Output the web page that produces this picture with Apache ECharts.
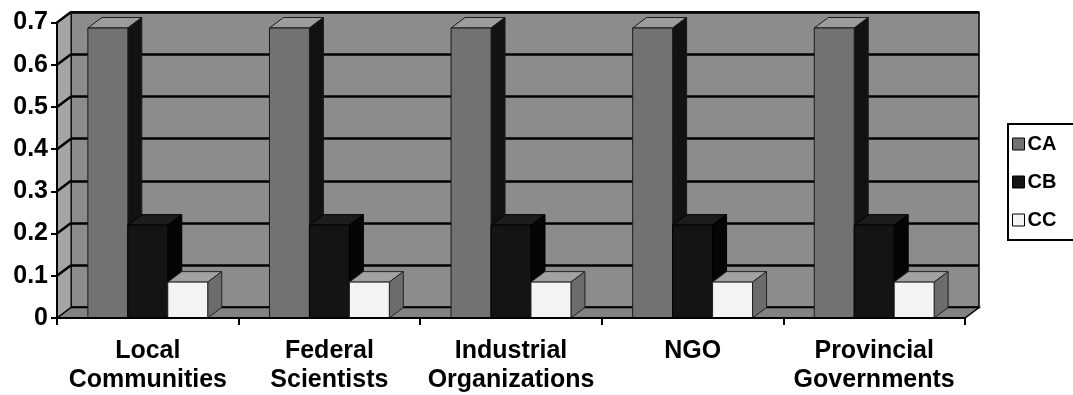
<!DOCTYPE html>
<html>
<head>
<meta charset="utf-8">
<script src="https://cdn.jsdelivr.net/npm/echarts@6/dist/echarts.min.js"></script>
<style>
html,body{margin:0;padding:0;background:#fff;}
#chart{width:1073px;height:395px;}
</style>
</head>
<body>
<div id="chart"></div>
<script>
// ---- data ----
const categories = ['Local\nCommunities', 'Federal\nScientists', 'Industrial\nOrganizations', 'NGO', 'Provincial\nGovernments'];
const seriesNames = ['CA', 'CB', 'CC'];
const caValues = [0.687, 0.687, 0.687, 0.687, 0.687];
const cbValues = [0.22, 0.22, 0.22, 0.22, 0.22];
const ccValues = [0.085, 0.085, 0.085, 0.085, 0.085];
const yMin = 0, yMax = 0.7, yStep = 0.1;

// ---- style ----
const FONT = "'Liberation Sans', Arial, sans-serif";
const DX = 14, DY = -10.5;          // 3D depth offset
const BAR_FRAC = 0.22;              // bar width as fraction of category width
const faceColors = [
  {front: '#727272', top: '#9c9c9c', side: '#121212', stroke: '#1a1a1a'},
  {front: '#141414', top: '#1c1c1c', side: '#050505', stroke: '#000'},
  {front: '#f4f4f4', top: '#a2a2a2', side: '#6c6c6c', stroke: '#222'}
];
const allValues = [caValues, cbValues, ccValues];

const chart = echarts.init(document.getElementById('chart'));

function barRenderer(sIdx) {
  return function (params, api) {
    const cat = api.value(0), v = api.value(1);
    const top = api.coord([cat, v]);
    const base = api.coord([cat, 0]);
    const cw = api.size([1, 0])[0];
    const w = cw * BAR_FRAC;
    const x0 = top[0] + (sIdx - 1.5) * w;
    const x1 = x0 + w;
    const yT = top[1], yB = base[1];
    const c = faceColors[sIdx];
    return {
      type: 'group',
      children: [
        {type: 'polygon', shape: {points: [[x0, yT], [x0 + DX, yT + DY], [x1 + DX, yT + DY], [x1, yT]]},
         style: {fill: c.top, stroke: c.stroke, lineWidth: 1}},
        {type: 'polygon', shape: {points: [[x1, yT], [x1 + DX, yT + DY], [x1 + DX, yB + DY], [x1, yB]]},
         style: {fill: c.side, stroke: c.stroke, lineWidth: 1}},
        {type: 'rect', shape: {x: x0, y: yT, width: w, height: yB - yT},
         style: {fill: c.front, stroke: c.stroke, lineWidth: 1}}
      ]
    };
  };
}

function wallRenderer(params, api) {
  const cs = params.coordSys;
  const x = cs.x, y = cs.y, w = cs.width, h = cs.height;
  const children = [
    {type: 'polygon', shape: {points: [[x, y], [x + DX, y + DY], [x + DX, y + h + DY], [x, y + h]]},
     style: {fill: '#a5a5a5', stroke: '#000', lineWidth: 1}},
    {type: 'polygon', shape: {points: [[x, y + h], [x + DX, y + h + DY], [x + w + DX, y + h + DY], [x + w, y + h]]},
     style: {fill: '#828282', stroke: '#000', lineWidth: 1.5}}
  ];
  for (let v = yMin + yStep; v <= yMax + 1e-9; v += yStep) {
    const yy = api.coord([0, v])[1];
    children.push({type: 'line', shape: {x1: x, y1: yy, x2: x + DX, y2: yy + DY},
      style: {stroke: '#000', lineWidth: 2.5}});
  }
  return {type: 'group', children: children};
}

const front = {left: 57, right: 108, top: 22.5, bottom: 77};
const back = {left: front.left + DX, right: front.right - DX, top: front.top + DY, bottom: front.bottom - DY};

const series = [
  {type: 'custom', name: '_walls', xAxisIndex: 0, yAxisIndex: 0, z: 1, silent: true,
   renderItem: wallRenderer, data: [[0, 0]], encode: {x: 0, y: 1}, clip: false}
];
seriesNames.forEach(function (name, i) {
  series.push({
    type: 'custom', name: name, xAxisIndex: 0, yAxisIndex: 0, z: 3 + i,
    renderItem: barRenderer(i), clip: false,
    itemStyle: {color: faceColors[i].front},
    encode: {x: 0, y: 1},
    data: allValues[i].map(function (v, k) { return [k, v]; })
  });
});

chart.setOption({
  backgroundColor: '#fff',
  animation: false,
  grid: [
    {left: front.left, right: front.right, top: front.top, bottom: front.bottom, containLabel: false},
    {left: back.left, right: back.right, top: back.top, bottom: back.bottom, containLabel: false,
     show: true, backgroundColor: '#8c8c8c', borderColor: '#000', borderWidth: 1.5, z: 0}
  ],
  xAxis: [
    {type: 'category', gridIndex: 0, data: categories, boundaryGap: true,
     axisLine: {show: true, lineStyle: {color: '#000', width: 2}},
     axisTick: {show: true, interval: 0, length: 7, lineStyle: {color: '#000', width: 2}},
     axisLabel: {interval: 0, color: '#000', fontFamily: FONT, fontWeight: 'bold', fontSize: 25, lineHeight: 29, margin: 19},
     splitLine: {show: false}, z: 5},
    {type: 'value', gridIndex: 1, min: 0, max: 1, show: false}
  ],
  yAxis: [
    {type: 'value', gridIndex: 0, min: yMin, max: yMax, interval: yStep,
     axisLine: {show: true, lineStyle: {color: '#000', width: 2}},
     axisTick: {show: true, length: 6, lineStyle: {color: '#000', width: 2}},
     axisLabel: {color: '#000', fontFamily: FONT, fontWeight: 'bold', fontSize: 25, margin: 9},
     splitLine: {show: false}, z: 5},
    {type: 'value', gridIndex: 1, min: yMin, max: yMax, interval: yStep,
     axisLine: {show: false}, axisTick: {show: false}, axisLabel: {show: false},
     splitLine: {show: true, lineStyle: {color: '#000', width: 2.5}}, z: 0}
  ],
  legend: {
    orient: 'vertical', left: 1008, top: 124,
    padding: [10, 40, 10, 4],
    borderColor: '#000', borderWidth: 2, backgroundColor: '#fff',
    itemWidth: 12, itemHeight: 12, itemGap: 18,
    icon: 'rect',
    textStyle: {color: '#000', fontFamily: FONT, fontWeight: 'bold', fontSize: 20, lineHeight: 20, padding: [0, 0, 0, -2]},
    data: seriesNames.map(function (n, i) {
      return {name: n, itemStyle: {color: faceColors[i].front, borderColor: '#000', borderWidth: 1}};
    })
  },
  series: series
});
</script>
</body>
</html>
